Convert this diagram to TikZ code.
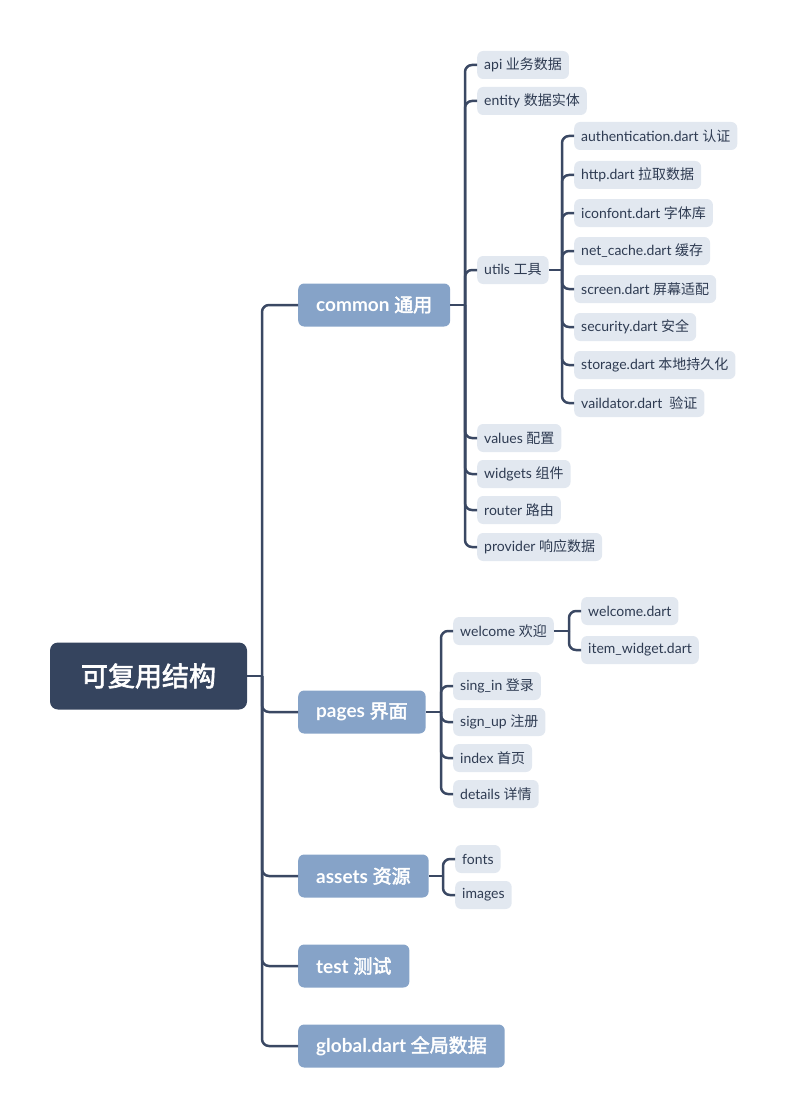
\documentclass[tikz,border=0pt]{standalone}
\usepackage{fontspec}
\setmainfont{Lato}
\newfontfamily\zh{Noto Sans CJK SC}[BoldFont={Noto Sans CJK SC},BoldFeatures={FakeBold=2.5}]

\definecolor{rootfill}{RGB}{53,68,94}
\definecolor{topicfill}{RGB}{134,163,200}
\definecolor{leaffill}{RGB}{226,232,240}
\definecolor{leaftext}{RGB}{46,59,82}
\definecolor{linecol}{RGB}{58,72,99}

\begin{document}
\begin{tikzpicture}[x=1pt,y=-1pt,
	rootnode/.style={
		% The shape:
		rectangle, rounded corners=8pt,
		% The size:
		minimum width=197pt, minimum height=67pt,
		% The filling:
		fill=rootfill, text=white,
		% Font
		font=\fontsize{27}{32}\selectfont\bfseries
		},
	topic/.style={
		rectangle, rounded corners=6pt, anchor=west,
		minimum height=43pt, inner xsep=18pt,
		fill=topicfill, text=white,
		font=\fontsize{19}{22}\selectfont\bfseries
		},
	leaf/.style={
		rectangle, rounded corners=6pt, anchor=west,
		minimum height=28pt, inner xsep=7pt,
		fill=leaffill, text=leaftext,
		font=\fontsize{14}{17}\selectfont
		},
	branch/.style={draw=linecol, line width=2.5pt, rounded corners=7pt}]

	\useasboundingbox (0,0) rectangle (792,1118);

	% root and main topics
	\node (root) [rootnode] at (148.5,676) {\zh 可复用结构};
	\node (common) [topic] at (298,305) {common \zh 通用};
	\node (pages) [topic] at (298,712) {pages \zh 界面};
	\node (assets) [topic] at (298,876) {assets \zh 资源};
	\node (test) [topic] at (298,966) {test \zh 测试};
	\node (global) [topic] at (298,1046) {global.dart \zh 全局数据};

	% common
	\node (api) [leaf] at (477,65) {api \zh 业务数据};
	\node (entity) [leaf] at (477,101) {entity \zh 数据实体};
	\node (utils) [leaf] at (477,270) {utils \zh 工具};
	\node (values) [leaf] at (477,438) {values \zh 配置};
	\node (widgets) [leaf] at (477,474) {widgets \zh 组件};
	\node (router) [leaf] at (477,510) {router \zh 路由};
	\node (provider) [leaf] at (477,547) {provider \zh 响应数据};

	% utils
	\node (auth) [leaf] at (574,136) {authentication.dart \zh 认证};
	\node (http) [leaf] at (574,175) {http.dart \zh 拉取数据};
	\node (iconfont) [leaf] at (574,213) {iconfont.dart \zh 字体库};
	\node (netcache) [leaf] at (574,251) {net\_cache.dart \zh 缓存};
	\node (screen) [leaf] at (574,289) {screen.dart \zh 屏幕适配};
	\node (security) [leaf] at (574,327) {security.dart \zh 安全};
	\node (storage) [leaf] at (574,365) {storage.dart \zh 本地持久化};
	\node (validator) [leaf] at (574,403) {vaildator.dart~ \zh 验证};

	% pages
	\node (welcome) [leaf] at (453,631) {welcome \zh 欢迎};
	\node (signin) [leaf] at (453,686) {sing\_in \zh 登录};
	\node (signup) [leaf] at (453,722) {sign\_up \zh 注册};
	\node (index) [leaf] at (453,758) {index \zh 首页};
	\node (details) [leaf] at (453,794) {details \zh 详情};
	\node (welcomedart) [leaf] at (581,611) {welcome.dart};
	\node (itemwidget) [leaf] at (581,650) {item\_widget.dart};

	% assets
	\node (fonts) [leaf] at (455,859) {fonts};
	\node (images) [leaf] at (455,895) {images};

	% connectors
	\coordinate (rootj) at (262,676);
	\coordinate (commonj) at (465,305);
	\coordinate (utilsj) at (562,270);
	\coordinate (pagesj) at (441,712);
	\coordinate (welcomej) at (569,631);
	\coordinate (assetsj) at (443,876);

	\draw[branch] (root.east) -- (rootj);
	\foreach \t in {common,pages,assets,test,global}
		\draw[branch] (rootj) |- (\t.west);

	\draw[branch] (common.east) -- (commonj);
	\foreach \t in {api,entity,utils,values,widgets,router,provider}
		\draw[branch] (commonj) |- (\t.west);

	\draw[branch] (utils.east) -- (utilsj);
	\foreach \t in {auth,http,iconfont,netcache,screen,security,storage,validator}
		\draw[branch] (utilsj) |- (\t.west);

	\draw[branch] (pages.east) -- (pagesj);
	\foreach \t in {welcome,signin,signup,index,details}
		\draw[branch] (pagesj) |- (\t.west);

	\draw[branch] (welcome.east) -- (welcomej);
	\foreach \t in {welcomedart,itemwidget}
		\draw[branch] (welcomej) |- (\t.west);

	\draw[branch] (assets.east) -- (assetsj);
	\foreach \t in {fonts,images}
		\draw[branch] (assetsj) |- (\t.west);

\end{tikzpicture}
\end{document}
